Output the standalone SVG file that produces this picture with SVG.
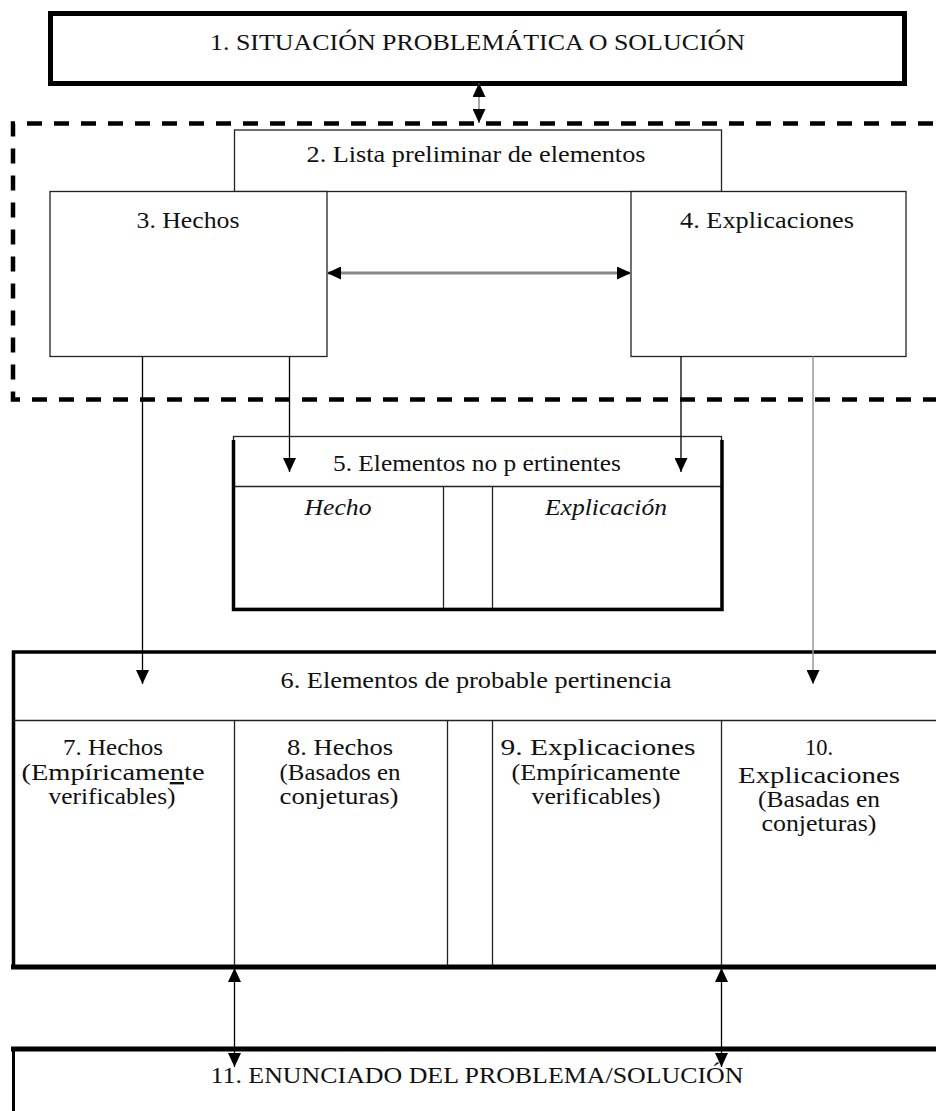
<svg xmlns="http://www.w3.org/2000/svg" width="936" height="1111" viewBox="0 0 936 1111">
<style>
  text { font-family: "Liberation Serif", "Times New Roman", serif; font-size: 24px; fill: #111; text-anchor: middle; }
  .it { font-style: italic; }
  .box { fill: #fff; stroke: #222; stroke-width: 1.3; }
  .thin { stroke: #222; stroke-width: 1.3; fill: none; }
  .thick { stroke: #000; fill: none; }
  .conn { stroke: #000; stroke-width: 1.3; fill: none; }
</style>
<defs>
  <marker id="ah" viewBox="0 0 10 10" refX="10" refY="5" markerWidth="14" markerHeight="13" markerUnits="userSpaceOnUse" orient="auto-start-reverse" preserveAspectRatio="none">
    <path d="M0,0 L10,5 L0,10 z" fill="#000"/>
  </marker>
</defs>
<rect width="936" height="1111" fill="#fff"/>

<g id="group-dashed">
  <path d="M960,123.5 H13 V399.5 H960" fill="none" stroke="#000" stroke-width="4.5" stroke-dasharray="15 12"/>
</g>

<g id="node1">
  <rect x="50.5" y="13.5" width="854" height="70" fill="#fff" stroke="#000" stroke-width="5"/>
  <text x="477.5" y="50" textLength="535" lengthAdjust="spacingAndGlyphs">1. SITUACIÓN PROBLEMÁTICA O SOLUCIÓN</text>
</g>

<g id="node2">
  <rect class="box" x="234.5" y="130" width="487" height="61.5"/>
  <text x="476" y="162" textLength="339" lengthAdjust="spacingAndGlyphs">2. Lista preliminar de elementos</text>
</g>

<g id="node3">
  <rect class="box" x="50" y="191.5" width="277" height="165"/>
  <text x="188" y="228" textLength="103" lengthAdjust="spacingAndGlyphs">3. Hechos</text>
</g>

<g id="node4">
  <rect class="box" x="631" y="191.5" width="275" height="165"/>
  <text x="767" y="228" textLength="174" lengthAdjust="spacingAndGlyphs">4. Explicaciones</text>
</g>

<g id="node5">
  <rect class="box" x="233.5" y="436.5" width="488" height="172"/>
  <line class="thin" x1="233.5" y1="486.5" x2="721.5" y2="486.5"/>
  <line class="thin" x1="443.5" y1="486.5" x2="443.5" y2="608.5"/>
  <line class="thin" x1="492.5" y1="486.5" x2="492.5" y2="608.5"/>
  <path class="thick" d="M233.5,440 V609.5 H722 V440" stroke-width="3.5"/>
  <text x="477" y="471" textLength="288" lengthAdjust="spacingAndGlyphs">5. Elementos no p ertinentes</text>
  <text class="it" x="338" y="515" textLength="67" lengthAdjust="spacingAndGlyphs">Hecho</text>
  <text class="it" x="606" y="515" textLength="122" lengthAdjust="spacingAndGlyphs">Explicación</text>
</g>

<g id="node6">
  <rect x="13" y="652" width="940" height="315" fill="#fff" stroke="none"/>
  <path class="thick" d="M13.5,967 V652 H940" stroke-width="3.5"/>
  <line class="thick" x1="11" y1="967" x2="940" y2="967" stroke-width="5"/>
  <line class="thin" x1="13" y1="720.5" x2="940" y2="720.5"/>
  <line class="thin" x1="234.5" y1="720.5" x2="234.5" y2="965"/>
  <line class="thin" x1="447.5" y1="720.5" x2="447.5" y2="965"/>
  <line class="thin" x1="492.5" y1="720.5" x2="492.5" y2="965"/>
  <line class="thin" x1="721.5" y1="720.5" x2="721.5" y2="965"/>
  <text x="476" y="688" textLength="391" lengthAdjust="spacingAndGlyphs">6. Elementos de probable pertinencia</text>
</g>

<g id="node7">
  <text x="113" y="755" textLength="100" lengthAdjust="spacingAndGlyphs">7. Hechos</text>
  <text x="113" y="780" textLength="183" lengthAdjust="spacingAndGlyphs">(Empíricame<tspan text-decoration="underline">n</tspan>te</text>
  <text x="112" y="804" textLength="127" lengthAdjust="spacingAndGlyphs">verificables)</text>
</g>

<g id="node8">
  <text x="340" y="755" textLength="106" lengthAdjust="spacingAndGlyphs">8. Hechos</text>
  <text x="340" y="780" textLength="121" lengthAdjust="spacingAndGlyphs">(Basados en</text>
  <text x="339" y="804" textLength="119" lengthAdjust="spacingAndGlyphs">conjeturas)</text>
</g>

<g id="node9">
  <text x="598" y="755" textLength="195" lengthAdjust="spacingAndGlyphs">9. Explicaciones</text>
  <text x="596" y="780" textLength="169" lengthAdjust="spacingAndGlyphs">(Empíricamente</text>
  <text x="596" y="804" textLength="129" lengthAdjust="spacingAndGlyphs">verificables)</text>
</g>

<g id="node10">
  <text x="819" y="755" textLength="28" lengthAdjust="spacingAndGlyphs">10.</text>
  <text x="819" y="783" textLength="162" lengthAdjust="spacingAndGlyphs">Explicaciones</text>
  <text x="819" y="807" textLength="122" lengthAdjust="spacingAndGlyphs">(Basadas en</text>
  <text x="819" y="831" textLength="115" lengthAdjust="spacingAndGlyphs">conjeturas)</text>
</g>

<g id="node11">
  <rect x="13" y="1049" width="940" height="80" fill="#fff" stroke="none"/>
  <path class="thick" d="M13.5,1115 V1049 H940" stroke-width="3"/>
  <line class="thick" x1="11" y1="1049" x2="940" y2="1049" stroke-width="5"/>
  <text x="477" y="1083" textLength="533" lengthAdjust="spacingAndGlyphs">11. ENUNCIADO DEL PROBLEMA/SOLUCIÓN</text>
</g>

<g id="connectors">
  <line x1="479" y1="83" x2="479" y2="123" stroke="#777" stroke-width="1.3" marker-start="url(#ah)" marker-end="url(#ah)"/>
  <line x1="327" y1="273" x2="631" y2="273" stroke="#888" stroke-width="3" marker-start="url(#ah)" marker-end="url(#ah)"/>
  <line class="conn" x1="142.5" y1="356.5" x2="142.5" y2="684" marker-end="url(#ah)"/>
  <line class="conn" x1="289.5" y1="356.5" x2="289.5" y2="472" marker-end="url(#ah)"/>
  <line class="conn" x1="681" y1="356.5" x2="681" y2="472" marker-end="url(#ah)"/>
  <line x1="813" y1="356.5" x2="813" y2="684" stroke="#999" stroke-width="1.5" marker-end="url(#ah)"/>
  <line class="conn" x1="234.5" y1="968" x2="234.5" y2="1067" marker-start="url(#ah)" marker-end="url(#ah)"/>
  <line class="conn" x1="721.5" y1="968" x2="721.5" y2="1067" marker-start="url(#ah)" marker-end="url(#ah)"/>
</g>
</svg>
